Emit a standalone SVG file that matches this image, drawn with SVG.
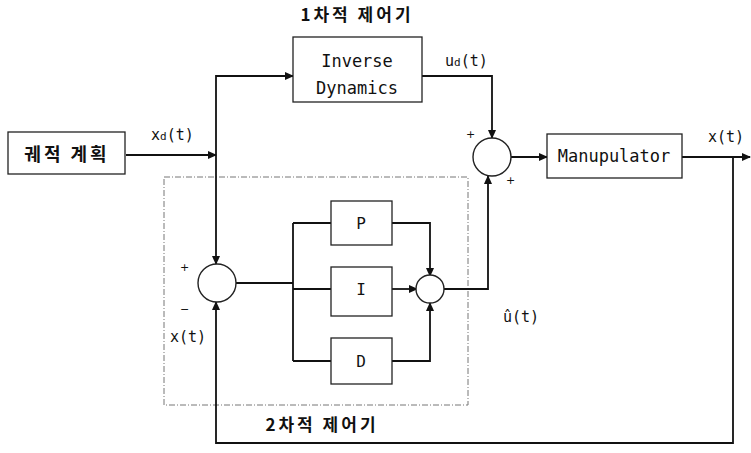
<svg xmlns="http://www.w3.org/2000/svg" width="751" height="453" viewBox="0 0 751 453">
<defs>
<marker id="ah" markerWidth="9" markerHeight="8" refX="8" refY="4" orient="auto" markerUnits="userSpaceOnUse">
<path d="M0,0 L9,4 L0,8 Z" fill="#111"/>
</marker>
<style>
.box{fill:#fff;stroke:#222;stroke-width:1.3}
.sum{fill:#fff;stroke:#222;stroke-width:1.4}
.ln{fill:none;stroke:#111;stroke-width:1.8}
.lnm{fill:none;stroke:#111;stroke-width:1.8;marker-end:url(#ah)}
.dash{fill:none;stroke:#777;stroke-width:1;stroke-dasharray:6,2,1,2}
.mono{font-family:"DejaVu Sans Mono","Liberation Mono",monospace;fill:#111}
.kr{font-family:"Noto Sans CJK KR","Noto Sans",sans-serif;font-weight:bold;fill:#111}
.sg{font-family:"DejaVu Sans","Liberation Sans",sans-serif;fill:#111;font-size:11px}
</style>
</defs>
<rect width="751" height="453" fill="#fff"/>
<rect class="dash" x="164" y="177" width="304" height="228"/>
<g id="connectors">
<path class="lnm" d="M126,155 H216"/>
<path class="lnm" d="M216,155 V264"/>
<path class="lnm" d="M216,155 V76 H293"/>
<path class="ln" d="M236,283 H293"/>
<path class="ln" d="M293,223 V361"/>
<path class="ln" d="M293,223 H331"/>
<path class="ln" d="M293,289 H331"/>
<path class="ln" d="M293,361 H331"/>
<path class="lnm" d="M392,223 H430 V276"/>
<path class="lnm" d="M392,289 H417"/>
<path class="lnm" d="M392,361 H430 V303"/>
<path class="lnm" d="M444,289 H488 V176"/>
<path class="lnm" d="M422,76 H492 V138"/>
<path class="lnm" d="M511,157 H547"/>
<path class="lnm" d="M682,157 H750"/>
<path class="lnm" d="M733,157 V443 H216 V302"/>
</g>
<g id="trajectory">
<rect class="box" x="8" y="132" width="117" height="42"/>
<text class="kr" x="67" y="161" font-size="18" text-anchor="middle" letter-spacing="3">궤적 계획</text>
</g>
<g id="inverse-dynamics">
<rect class="box" x="293" y="37" width="129" height="65"/>
<text class="mono" x="357" y="67" font-size="17" text-anchor="middle">Inverse</text>
<text class="mono" x="357" y="94" font-size="17" text-anchor="middle">Dynamics</text>
</g>
<g id="sum1">
<circle class="sum" cx="217" cy="283" r="19"/>
</g>
<g id="p-block">
<rect class="box" x="331" y="201" width="61" height="44"/>
<text class="mono" x="361" y="229" font-size="16" text-anchor="middle">P</text>
</g>
<g id="i-block">
<rect class="box" x="331" y="267" width="61" height="49"/>
<text class="mono" x="361" y="295" font-size="16" text-anchor="middle">I</text>
</g>
<g id="d-block">
<rect class="box" x="331" y="338" width="61" height="46"/>
<text class="mono" x="361" y="367" font-size="16" text-anchor="middle">D</text>
</g>
<g id="sum2">
<circle class="sum" cx="430" cy="289" r="14"/>
</g>
<g id="sum3">
<circle class="sum" cx="492" cy="157" r="19"/>
</g>
<g id="manipulator">
<rect class="box" x="547" y="134" width="135" height="44"/>
<text class="mono" x="614" y="162" font-size="17" text-anchor="middle">Manupulator</text>
</g>
<g id="labels">
<text class="kr" x="357" y="21" font-size="17" text-anchor="middle" letter-spacing="3">1차적 제어기</text>
<text class="kr" x="322" y="431" font-size="17" text-anchor="middle" letter-spacing="3">2차적 제어기</text>
<text class="mono" x="151" y="140" font-size="15">x<tspan font-size="11">d</tspan>(t)</text>
<text class="mono" x="445" y="66" font-size="15">u<tspan font-size="11">d</tspan>(t)</text>
<text class="mono" x="708" y="142" font-size="15">x(t)</text>
<text class="mono" x="170" y="342" font-size="15">x(t)</text>
<text class="mono" x="503" y="322" font-size="15">û(t)</text>
<text class="sg" x="180" y="271">+</text>
<text class="sg" x="180" y="313">−</text>
<text class="sg" x="466" y="138">+</text>
<text class="sg" x="506" y="184">+</text>
</g>
</svg>
